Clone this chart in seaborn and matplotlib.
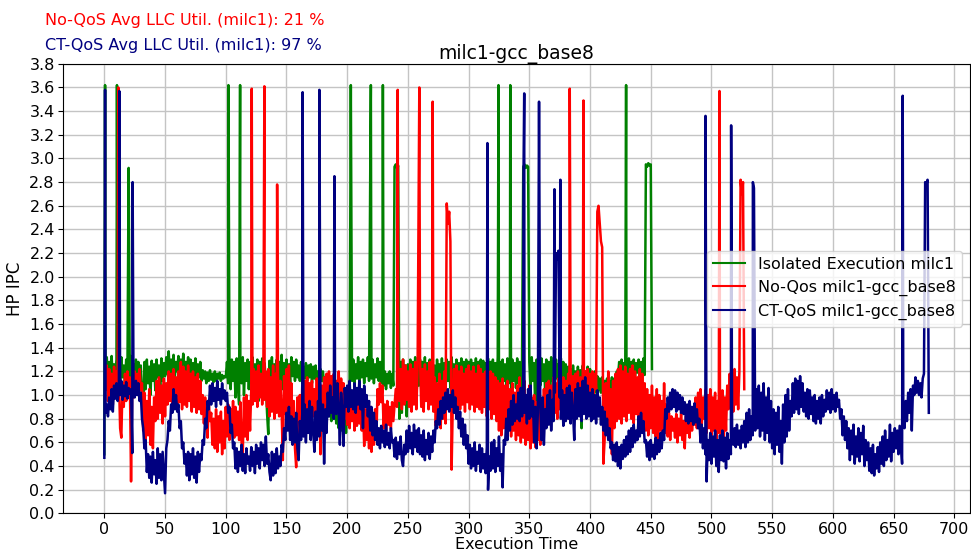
import numpy as np
import pandas as pd
import seaborn as sns
import matplotlib
matplotlib.use("Agg")
import matplotlib.pyplot as plt

# ---------------------------------------------------------------------------
# Sampled HP IPC traces (one sample per time unit) for the three runs.
# ---------------------------------------------------------------------------
iso_start = 0
iso_ipc = [
    0.50, 1.18, 1.32, 1.12, 1.28, 1.15, 1.33, 1.10, 1.26, 1.16,
    1.30, 1.12, 1.28, 1.06, 1.32, 1.15, 1.25, 1.10, 1.30, 1.14,
    1.27, 1.08, 1.33, 1.12, 1.26, 1.16, 1.30, 1.10, 1.28, 1.12,
    1.25, 1.02, 0.75, 1.28, 1.05, 1.30, 1.10, 1.24, 1.00, 1.29,
    1.12, 1.26, 1.04, 1.30, 1.15, 1.25, 1.08, 1.31, 1.12, 1.27,
    1.16, 1.32, 1.18, 1.37, 1.15, 1.30, 1.18, 1.34, 1.14, 1.28,
    1.20, 1.33, 1.16, 1.30, 1.18, 1.35, 1.15, 1.28, 1.20, 1.32,
    1.16, 1.30, 1.18, 1.27, 1.14, 1.31, 1.16, 1.26, 1.15, 1.28,
    1.12, 1.21, 1.14, 1.20, 1.10, 1.19, 1.12, 1.21, 1.13, 1.18,
    1.11, 1.20, 1.12, 1.18, 1.14, 1.19, 1.12, 1.17, 1.14, 1.16,
    1.15, 1.28, 1.10, 1.32, 1.05, 1.30, 1.12, 1.28, 0.98, 1.31,
    1.08, 0.92, 1.29, 1.10, 1.32, 1.00, 1.27, 1.12, 1.30, 1.05,
    1.28, 1.10, 1.32, 1.02, 1.26, 1.12, 1.30, 0.95, 1.28, 1.08,
    1.31, 1.04, 1.27, 1.10, 0.85, 0.67, 1.29, 1.08, 1.32, 1.00,
    1.26, 1.12, 1.30, 1.06, 1.28, 1.10, 1.34, 1.05, 1.27, 1.12,
    1.30, 1.14, 1.26, 1.10, 1.32, 1.16, 1.28, 1.12, 1.30, 1.15,
    1.25, 1.12, 1.28, 1.10, 1.24, 1.14, 1.27, 1.12, 1.25, 1.15,
    1.26, 1.10, 1.24, 1.14, 1.25, 1.12, 1.20, 1.15, 1.22, 1.12,
    1.20, 1.10, 1.15, 0.95, 1.00, 0.82, 0.98, 0.78, 1.02, 0.80,
    0.96, 0.76, 1.00, 0.72, 0.95, 0.70, 0.98, 0.74, 1.02, 0.68,
    0.95, 0.75, 1.10, 1.28, 1.12, 1.30, 1.10, 1.26, 1.14, 1.32,
    1.12, 1.28, 1.15, 1.30, 1.10, 1.27, 1.16, 1.32, 1.12, 1.28,
    1.14, 1.30, 1.10, 1.26, 1.15, 1.31, 1.12, 1.28, 1.10, 1.30,
    1.08, 1.20, 1.05, 1.18, 1.10, 1.20, 1.06, 1.18, 1.08, 1.20,
    1.10, 1.22, 1.05, 0.80, 1.28, 0.85, 1.30, 1.00, 1.25, 0.82,
    1.26, 1.05, 1.30, 0.88, 1.28, 1.10, 1.32, 0.95, 1.26, 1.08,
    1.30, 1.05, 1.28, 1.10, 1.32, 1.02, 1.27, 1.12, 1.30, 1.00,
    1.28, 1.10, 1.25, 1.05, 1.30, 1.12, 1.26, 1.08, 1.31, 1.10,
    1.27, 1.04, 1.30, 1.12, 1.28, 1.06, 1.32, 1.10, 1.26, 1.08,
    1.30, 1.12, 1.27, 1.05, 1.31, 1.10, 1.28, 1.08, 1.30, 1.14,
    1.28, 1.15, 1.30, 1.18, 1.27, 1.16, 1.31, 1.14, 1.28, 1.17,
    1.30, 1.15, 1.29, 1.18, 1.27, 1.14, 1.31, 1.16, 1.28, 1.18,
    1.30, 1.15, 1.27, 1.12, 1.32, 1.10, 1.28, 1.05, 1.30, 1.12,
    1.26, 1.08, 1.31, 1.10, 1.28, 0.85, 1.30, 1.12, 1.27, 1.06,
    1.31, 1.10, 1.28, 0.82, 1.30, 1.12, 1.27, 1.08, 1.30, 1.10,
    1.28, 1.05, 1.32, 1.12, 1.27, 0.80, 1.30, 1.10, 1.28, 1.08,
    1.31, 1.12, 1.26, 1.05, 1.30, 1.10, 1.28, 0.86, 1.32, 1.12,
    1.27, 1.08, 1.30, 1.14, 1.26, 1.10, 1.31, 1.06, 1.28, 1.12,
    1.26, 1.05, 1.24, 1.10, 1.22, 1.02, 1.25, 1.08, 1.20, 1.04,
    1.24, 1.06, 1.21, 0.72, 1.25, 1.02, 1.20, 1.08, 1.24, 1.05,
    1.22, 1.04, 1.18, 1.06, 1.20, 1.02, 1.16, 1.04, 1.14, 1.02,
    1.15, 1.00, 1.12, 1.03, 1.14, 1.00, 1.12, 1.04, 1.15, 1.02,
    1.14, 1.05, 1.20, 1.15, 1.28, 1.16, 1.30, 1.18, 1.27, 1.15,
    1.29, 1.17, 1.31, 1.15, 1.28, 1.18, 1.30, 1.16, 1.27, 1.19,
    1.30, 1.16, 1.28, 1.18, 1.31, 1.17, 1.29, 1.20, 1.28, 1.22,
    1.25, 1.22,
]
iso_peaks = {
    0.6: 3.62, 10.4: 3.62, 20.0: 2.92, 102.2: 3.62, 111.8: 3.62,
    203.0: 3.62, 219.0: 2.92, 219.5: 3.62, 229.4: 3.62,
    239.0: 2.93, 240.0: 2.95, 241.0: 2.92, 242.0: 2.94,
    324.6: 3.62, 334.3: 3.62,
    345.0: 2.93, 346.0: 2.95, 347.0: 2.92, 348.0: 2.94, 349.0: 2.93,
    429.7: 3.62,
    446.0: 2.95, 447.0: 2.93, 448.0: 2.96, 449.0: 2.94, 450.0: 2.95,
}

noqos_start = 1
noqos_ipc = [
    1.05, 1.25, 0.95, 1.22, 1.00, 1.18, 0.92, 1.24, 1.02, 1.20,
    0.98, 1.15, 0.72, 0.64, 1.10, 0.90, 1.18, 0.95, 1.20, 1.00,
    1.15, 0.27, 1.12, 0.98, 1.20, 1.02, 1.18, 1.00, 1.22, 1.04,
    1.10, 0.70, 1.02, 0.62, 0.95, 0.66, 1.05, 0.58, 0.90, 0.55,
    0.98, 0.78, 1.12, 0.80, 1.15, 0.85, 1.08, 0.76, 1.14, 0.82,
    1.10, 0.92, 1.20, 0.95, 1.18, 0.90, 1.22, 0.96, 1.15, 0.92,
    1.20, 0.94, 1.28, 0.88, 1.24, 0.92, 1.20, 0.90, 1.25, 0.95,
    1.18, 0.86, 1.20, 0.90, 1.15, 0.85, 1.18, 0.88, 1.12, 0.84,
    1.00, 0.76, 0.98, 0.80, 0.64, 0.95, 0.78, 0.85, 0.58, 0.80,
    0.55, 0.88, 0.52, 0.82, 0.60, 0.86, 0.50, 0.78, 0.55, 0.90,
    0.65, 0.92, 0.62, 0.88, 0.70, 0.95, 0.64, 0.90, 0.66, 0.86,
    0.62, 0.94, 0.60, 0.50, 0.98, 0.65, 1.00, 0.62, 0.95, 0.70,
    1.05, 0.92, 1.22, 0.95, 1.20, 0.90, 1.25, 0.98, 1.18, 0.92,
    1.24, 0.96, 1.20, 0.90, 1.22, 0.82, 1.15, 0.86, 1.25, 0.80,
    1.18, 0.85, 1.20, 0.82, 1.12, 0.88, 0.45, 1.16, 0.84, 1.22,
    0.86, 1.25, 0.80, 1.10, 0.62, 0.95, 0.55, 0.39, 0.98, 0.58,
    1.00, 0.72, 1.08, 0.75, 1.12, 0.70, 1.15, 0.78, 1.10, 0.74,
    1.12, 0.82, 1.05, 0.85, 1.14, 0.80, 1.10, 0.50, 1.08, 0.84,
    1.15, 0.88, 1.18, 0.90, 1.20, 0.86, 1.16, 0.92, 1.18, 0.88,
    1.12, 0.85, 1.20, 0.90, 1.14, 0.86, 1.10, 0.80, 1.02, 0.75,
    0.98, 0.72, 0.95, 0.78, 1.00, 0.70, 0.96, 0.74, 1.02, 0.76,
    0.95, 0.70, 0.92, 0.57, 0.88, 0.62, 0.85, 0.55, 0.90, 0.52,
    0.82, 0.58, 0.88, 0.62, 1.05, 0.92, 1.10, 0.94, 1.08, 0.72,
    0.92, 0.70, 0.95, 0.75, 0.90, 0.72, 0.94, 0.78, 0.92, 1.05,
    0.90, 1.28, 0.95, 1.22, 0.88, 1.30, 0.92, 1.25, 0.96, 1.20,
    0.90, 1.26, 0.86, 1.22, 0.92, 1.28, 0.88, 1.24, 0.94, 1.30,
    0.90, 1.22, 0.86, 1.26, 0.95, 1.20, 0.88, 1.28, 0.92, 1.24,
    0.86, 1.15, 0.74, 1.10, 0.78, 1.18, 0.72, 1.12, 0.80, 1.20,
    0.76, 1.10, 0.74, 1.08, 0.72, 0.37, 0.95, 1.22, 0.86, 1.25,
    0.90, 1.20, 0.88, 1.24, 0.92, 1.18, 0.86, 1.22, 0.94, 1.25,
    0.88, 1.20, 0.92, 1.24, 0.86, 1.18, 0.90, 1.25, 0.88, 1.22,
    0.85, 1.18, 0.90, 1.20, 0.82, 1.15, 0.88, 1.20, 0.80, 1.18,
    0.84, 1.15, 0.78, 1.12, 0.70, 1.10, 0.66, 1.14, 0.72, 1.08,
    0.68, 1.12, 0.75, 1.05, 0.65, 1.10, 0.70, 1.02, 0.62, 1.08,
    0.66, 1.15, 0.60, 1.05, 0.64, 1.12, 0.58, 1.00, 0.62, 1.08,
    0.55, 0.98, 0.60, 1.00, 0.56, 0.94, 0.62, 0.90, 0.58, 0.96,
    0.70, 1.05, 0.82, 1.10, 0.80, 1.12, 0.86, 1.08, 0.82, 1.15,
    0.85, 1.10, 0.80, 1.14, 0.88, 1.08, 0.82, 1.15, 0.86, 1.12,
    0.84, 1.18, 0.80, 1.20, 0.85, 1.16, 0.82, 1.18, 0.86, 1.20,
    0.84, 1.15, 0.80, 1.18, 0.88, 1.20, 0.86, 1.22, 0.90, 1.18,
    1.02, 1.20, 1.00, 1.18, 1.05, 1.22, 1.00, 1.10, 0.90, 0.65,
    0.42, 0.62, 1.10, 0.70, 1.20, 0.66, 1.05, 0.50, 1.12, 0.72,
    1.18, 0.78, 1.22, 0.80, 1.25, 0.76, 1.20, 0.82, 1.24, 0.78,
    1.18, 0.85, 1.22, 0.80, 1.25, 0.76, 1.20, 0.84, 1.15, 0.78,
    1.22, 0.80, 1.18, 0.75, 1.10, 0.70, 1.05, 0.66, 1.00, 0.72,
    1.08, 0.68, 0.98, 0.65, 1.05, 0.62, 1.00, 0.70, 0.95, 0.66,
    1.10, 0.68, 0.92, 0.65, 0.85, 0.62, 0.82, 0.70, 0.80, 0.64,
    0.84, 0.60, 0.80, 0.66, 0.85, 0.62, 0.78, 0.55, 0.82, 0.68,
    0.80, 0.64, 0.86, 0.70, 0.82, 0.75, 0.98, 0.72, 1.02, 0.76,
    1.05, 0.74, 0.98, 0.80, 1.04, 0.68, 1.00, 0.72, 1.05, 0.66,
    0.98, 0.70, 1.02, 0.50, 0.95, 0.68, 1.00, 0.65, 1.04, 0.55,
    0.98, 0.70, 1.08, 0.88, 1.18, 0.90, 1.20, 0.86, 1.22, 0.92,
    1.15, 0.88, 1.20, 0.92, 1.18, 0.95, 1.05,
]
noqos_peaks = {
    11.5: 3.60, 121.4: 3.59, 131.8: 3.61, 142.3: 2.78,
    241.6: 3.58, 259.0: 2.85, 259.4: 3.60, 270.4: 3.48,
    282.0: 2.62, 283.0: 2.45, 284.0: 2.55, 285.0: 2.30,
    383.3: 3.59, 394.6: 3.49,
    406.0: 2.55, 407.0: 2.60, 408.0: 2.45, 409.0: 2.30, 410.0: 2.25,
    506.6: 3.57, 524.0: 2.82, 525.0: 2.70, 526.0: 2.80,
}

ctqos_start = 0
ctqos_ipc = [
    0.47, 0.85, 0.92, 0.82, 0.98, 0.88, 1.05, 0.86, 1.08, 0.97,
    1.10, 0.95, 1.06, 1.00, 1.12, 0.96, 1.08, 0.99, 1.11, 0.97,
    1.06, 1.01, 1.05, 0.51, 1.09, 0.98, 1.12, 1.00, 1.10, 0.95,
    1.02, 0.80, 0.72, 0.55, 0.62, 0.35, 0.50, 0.30, 0.48, 0.26,
    0.52, 0.33, 0.45, 0.25, 0.55, 0.30, 0.50, 0.28, 0.52, 0.34,
    0.17, 0.55, 0.62, 0.78, 0.70, 0.92, 0.85, 1.05, 0.88, 1.00,
    0.86, 0.92, 0.72, 0.78, 0.55, 0.60, 0.42, 0.50, 0.32, 0.52,
    0.28, 0.50, 0.33, 0.55, 0.30, 0.48, 0.26, 0.52, 0.35, 0.50,
    0.45, 0.62, 0.58, 0.80, 0.72, 0.95, 0.88, 1.08, 0.92, 1.10,
    0.95, 1.06, 0.90, 1.12, 0.96, 1.05, 0.92, 1.10, 0.97, 1.04,
    0.95, 1.02, 0.85, 0.90, 0.68, 0.75, 0.55, 0.60, 0.38, 0.55,
    0.35, 0.52, 0.40, 0.58, 0.36, 0.50, 0.34, 0.55, 0.42, 0.48,
    0.36, 0.56, 0.40, 0.52, 0.34, 0.58, 0.42, 0.55, 0.38, 0.60,
    0.45, 0.58, 0.40, 0.65, 0.42, 0.50, 0.35, 0.28, 0.52, 0.32,
    0.50, 0.34, 0.55, 0.38, 0.48, 0.40, 0.58, 0.52, 0.72, 0.62,
    0.85, 0.70, 0.90, 0.62, 0.82, 0.58, 0.80, 0.60, 0.85, 0.55,
    0.45, 0.78, 0.62, 0.84, 0.65, 0.92, 0.60, 0.88, 0.68, 0.95,
    0.62, 0.90, 0.70, 0.52, 0.86, 0.62, 0.95, 0.65, 0.98, 0.70,
    0.92, 0.42, 0.88, 0.68, 1.02, 0.82, 1.08, 0.85, 0.98, 0.80,
    1.05, 0.84, 1.10, 0.88, 0.58, 1.02, 0.85, 0.57, 1.06, 0.90,
    1.08, 0.86, 1.12, 0.90, 1.04, 0.88, 1.10, 0.85, 1.06, 0.92,
    1.12, 0.88, 1.05, 0.72, 1.08, 0.90, 1.00, 0.82, 0.95, 0.70,
    0.90, 0.66, 0.85, 0.62, 0.78, 0.58, 0.72, 0.55, 0.74, 0.60,
    0.70, 0.56, 0.75, 0.58, 0.68, 0.55, 0.72, 0.60, 0.62, 0.48,
    0.64, 0.46, 0.60, 0.50, 0.65, 0.45, 0.40, 0.58, 0.50, 0.70,
    0.52, 0.74, 0.55, 0.68, 0.50, 0.75, 0.56, 0.70, 0.52, 0.72,
    0.50, 0.66, 0.48, 0.70, 0.45, 0.62, 0.50, 0.68, 0.46, 0.65,
    0.52, 0.70, 0.60, 0.78, 0.72, 0.88, 0.75, 0.95, 0.80, 0.98,
    0.85, 1.02, 0.88, 1.05, 0.86, 1.00, 0.90, 1.04, 0.85, 0.98,
    0.80, 0.90, 0.72, 0.86, 0.65, 0.80, 0.58, 0.75, 0.55, 0.66,
    0.42, 0.58, 0.38, 0.55, 0.40, 0.60, 0.36, 0.52, 0.42, 0.58,
    0.35, 0.55, 0.38, 0.50, 0.34, 0.56, 0.20, 0.48, 0.36, 0.60,
    0.38, 0.62, 0.35, 0.55, 0.40, 0.65, 0.36, 0.50, 0.22, 0.62,
    0.58, 0.80, 0.62, 0.88, 0.70, 0.95, 0.75, 1.00, 0.78, 0.92,
    0.80, 1.02, 0.78, 1.06, 0.82, 1.10, 0.85, 1.00, 0.76, 1.05,
    0.80, 1.08, 0.82, 0.95, 0.60, 0.90, 0.55, 0.85, 0.45, 0.92,
    0.62, 0.98, 0.58, 0.88, 0.72, 1.00, 0.75, 1.04, 0.70, 0.96,
    0.78, 1.02, 0.72, 1.05, 0.75, 0.98, 0.80, 1.04, 0.74, 1.00,
    0.78, 1.06, 0.80, 1.08, 0.76, 1.02, 0.85, 0.62, 1.05, 0.80,
    1.10, 0.82, 1.06, 0.78, 1.12, 0.84, 1.15, 0.80, 1.08, 0.82,
    1.02, 0.78, 1.05, 0.80, 1.00, 0.76, 1.04, 0.82, 0.98, 0.75,
    0.90, 0.70, 0.86, 0.66, 0.80, 0.62, 0.72, 0.55, 0.60, 0.45,
    0.58, 0.44, 0.60, 0.40, 0.56, 0.38, 0.58, 0.46, 0.62, 0.48,
    0.65, 0.50, 0.70, 0.52, 0.72, 0.56, 0.75, 0.60, 0.70, 0.62,
    0.82, 0.65, 0.85, 0.68, 0.78, 0.60, 0.62, 0.48, 0.60, 0.45,
    0.62, 0.48, 0.58, 0.46, 0.64, 0.50, 0.62, 0.52, 0.68, 0.55,
    0.70, 0.62, 0.88, 0.80, 0.98, 0.86, 1.02, 0.88, 1.05, 0.90,
    1.04, 0.86, 1.02, 0.88, 1.00, 0.85, 0.98, 0.84, 0.94, 0.78,
    0.92, 0.76, 0.95, 0.78, 0.90, 0.75, 0.93, 0.77, 0.88, 0.72,
    0.80, 0.60, 0.75, 0.55, 0.72, 0.50, 0.27, 0.62, 0.45, 0.68,
    0.42, 0.65, 0.48, 0.70, 0.40, 0.62, 0.35, 0.66, 0.45, 0.70,
    0.44, 0.64, 0.38, 0.68, 0.46, 0.62, 0.50, 0.70, 0.58, 0.72,
    0.56, 0.75, 0.58, 0.70, 0.55, 0.74, 0.60, 0.78, 0.56, 0.85,
    0.60, 0.88, 0.62, 0.82, 0.66, 0.90, 0.70, 1.05, 0.72, 1.08,
    0.65, 1.02, 0.70, 1.10, 0.62, 0.98, 0.68, 1.06, 0.60, 0.95,
    0.55, 0.88, 0.50, 0.85, 0.58, 0.90, 0.52, 0.78, 0.42, 0.92,
    0.60, 1.00, 0.65, 1.05, 0.70, 0.95, 0.82, 1.10, 0.85, 1.14,
    0.88, 1.12, 0.84, 1.16, 0.90, 1.10, 0.86, 1.02, 0.82, 1.05,
    0.80, 1.04, 0.84, 0.98, 0.78, 1.00, 0.76, 0.95, 0.80, 0.98,
    0.76, 1.00, 0.82, 0.96, 0.86, 1.04, 0.88, 1.02, 0.85, 1.05,
    0.88, 1.00, 0.86, 1.02, 0.90, 0.96, 0.80, 0.88, 0.66, 0.82,
    0.62, 0.78, 0.55, 0.72, 0.45, 0.70, 0.50, 0.75, 0.42, 0.65,
    0.48, 0.72, 0.44, 0.68, 0.50, 0.74, 0.40, 0.62, 0.45, 0.60,
    0.36, 0.55, 0.34, 0.58, 0.32, 0.50, 0.38, 0.56, 0.35, 0.60,
    0.42, 0.65, 0.40, 0.70, 0.45, 0.62, 0.48, 0.75, 0.44, 0.68,
    0.52, 0.72, 0.55, 0.70, 0.50, 0.74, 0.58, 0.42, 0.80, 0.72,
    0.95, 0.78, 1.02, 0.85, 1.05, 0.70, 1.08, 1.00, 1.15, 1.02,
    1.12, 1.00, 1.10, 0.98, 1.14, 1.18, 2.80, 2.78, 2.82, 0.85,
]
ctqos_peaks = {
    0.6: 3.58, 12.3: 3.57, 23.3: 2.80, 163.3: 3.56, 177.1: 3.58,
    189.5: 2.85, 315.5: 3.13, 345.2: 2.85, 345.8: 3.55, 358.0: 3.48,
    370.7: 2.74, 372.0: 2.20, 373.0: 2.15, 374.0: 2.22, 375.6: 2.82,
    495.1: 3.36, 516.2: 3.28, 534.1: 2.80, 535.0: 2.75, 657.5: 3.53,
}

series_names = [
    "Isolated Execution milc1",
    "No-Qos milc1-gcc_base8",
    "CT-QoS milc1-gcc_base8",
]
series_colors = ["green", "red", "navy"]

llc_notes = [
    ("No-QoS Avg LLC Util. (milc1): 21 %", "red"),
    ("CT-QoS Avg LLC Util. (milc1): 97 %", "navy"),
]


def build_trace(start, values, peaks):
    """Merge the regular samples with the short bursts into one sorted trace."""
    pts = {float(start + i): v for i, v in enumerate(values)}
    pts.update(peaks)
    times = sorted(pts)
    return pd.DataFrame({"time": times, "ipc": [pts[t] for t in times]})


traces = [
    build_trace(iso_start, iso_ipc, iso_peaks),
    build_trace(noqos_start, noqos_ipc, noqos_peaks),
    build_trace(ctqos_start, ctqos_ipc, ctqos_peaks),
]

fig, ax = plt.subplots(figsize=(9.71, 5.55), dpi=100)
fig.subplots_adjust(left=0.065, right=0.999, top=0.885, bottom=0.075)

for df, name, col in zip(traces, series_names, series_colors):
    sns.lineplot(data=df, x="time", y="ipc", ax=ax, color=col, lw=1.8,
                 label=name, estimator=None, sort=False)

ax.set_ylim(0, 3.8)
ax.set_yticks(np.arange(0, 3.81, 0.2))
ax.set_yticklabels([f"{v:.1f}" for v in np.arange(0, 3.81, 0.2)])
ax.set_xticks(np.arange(0, 701, 50))
ax.tick_params(labelsize=11.5, pad=2.5)
ax.grid(True, color="#c4c4c4", lw=1.0)
ax.set_axisbelow(True)

ax.set_xlabel("Execution Time", fontsize=11.5, labelpad=0)
ax.set_ylabel("HP IPC", fontsize=12)
ax.set_title("milc1-gcc_base8", fontsize=13.5, pad=3)

leg = ax.legend(loc="center right", fontsize=11.5)
for line in leg.get_lines():
    line.set_linewidth(1.5)

for i, (txt, col) in enumerate(llc_notes):
    fig.text(45 / 971, 1 - (20 + 25 * i) / 555, txt, color=col,
             fontsize=11.5, va="center", ha="left")

fig.savefig("out.png", dpi=100)
